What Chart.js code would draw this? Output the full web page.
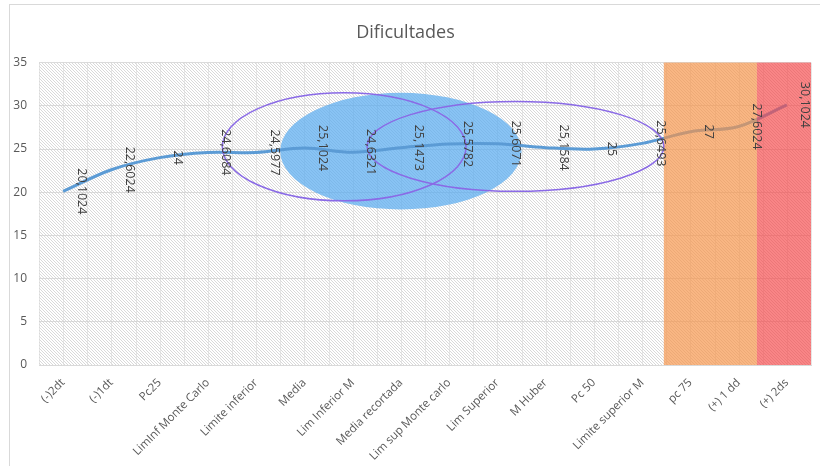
<!DOCTYPE html>
<html>
<head>
<meta charset="utf-8">
<script src="https://cdn.jsdelivr.net/npm/chart.js@4.4.1/dist/chart.umd.min.js"></script>
<style>
    html, body { margin: 0; padding: 0; background: #ffffff; }
    #wrap { position: relative; width: 820px; height: 466px; overflow: hidden; }
    #frame { position: absolute; left: 9px; top: 4px; width: 830px; height: 480px; border: 1px solid #d9d9d9; box-sizing: border-box; }
    #difChart { position: absolute; left: 0; top: 0; }
</style>
</head>
<body>
<div id="wrap">
    <div id="frame"></div>
    <canvas id="difChart" width="820" height="466"></canvas>
</div>
<script>
// Categorias e valores
const categories = [
    '(-)2dt', '(-)1dt', 'Pc25', 'LimInf Monte Carlo', 'Limite inferior', 'Media',
    'Lim Inferior M', 'Media recortada', 'Lim sup Monte carlo', 'Lim Superior',
    'M Huber', 'Pc 50', 'Limite superior M', 'pc 75', '(+) 1 dd', '(+) 2ds'
];
const values = [
    20.1024, 22.6024, 24, 24.6084, 24.5977, 25.1024, 24.6321, 25.1473,
    25.5782, 25.6071, 25.1584, 25, 25.6493, 27, 27.6024, 30.1024
];
const yTicks = [0, 5, 10, 15, 20, 25, 30, 35];

// Bandas de fundo (em índices de categoria)
const orangeBand = [12.45, 14.38];
const redBand = [14.38, 15.5];

// Elipses: [xMin, xMax, yMin, yMax] em unidades dos eixos
const blueEllipse = [4.5, 9.5, 18, 31.5];
const ringA = [3.3, 8.35, 19, 31.5];
const ringB = [6.3, 12.45, 20.1, 30.5];

const FONT = "'Open Sans', 'Liberation Sans', sans-serif";

function makeHatch() {
    const c = document.createElement('canvas');
    c.width = 3; c.height = 3;
    const g = c.getContext('2d');
    g.fillStyle = '#ffffff';
    g.fillRect(0, 0, 3, 3);
    g.fillStyle = 'rgba(180,180,180,0.5)';
    for (let k = 0; k < 3; k++) g.fillRect(k, k, 1, 1);
    return c;
}

function ellipsePath(ctx, xs, ys, e) {
    const x1 = xs.getPixelForValue(e[0]), x2 = xs.getPixelForValue(e[1]);
    const y1 = ys.getPixelForValue(e[3]), y2 = ys.getPixelForValue(e[2]);
    ctx.beginPath();
    ctx.ellipse((x1 + x2) / 2, (y1 + y2) / 2, (x2 - x1) / 2, (y2 - y1) / 2, 0, 0, Math.PI * 2);
}

function bandRect(ctx, xs, area, b, color) {
    const x1 = xs.getPixelForValue(b[0]), x2 = xs.getPixelForValue(b[1]);
    ctx.fillStyle = color;
    ctx.fillRect(x1, area.top, x2 - x1, area.bottom - area.top);
}

const decorPlugin = {
    id: 'decor',
    beforeDraw(chart) {
        const { ctx, chartArea: a, scales: { x } } = chart;
        ctx.save();
        ctx.fillStyle = ctx.createPattern(makeHatch(), 'repeat');
        ctx.fillRect(a.left, a.top, a.right - a.left, a.bottom - a.top);
        // líneas verticales suaves cada media categoría
        ctx.strokeStyle = 'rgba(215,215,215,0.6)';
        ctx.lineWidth = 1;
        for (let i = -0.5; i <= categories.length - 0.5; i += 0.5) {
            const px = Math.round(x.getPixelForValue(i)) + 0.5;
            ctx.beginPath();
            ctx.moveTo(px, a.top);
            ctx.lineTo(px, a.bottom);
            ctx.stroke();
        }
        ctx.restore();
    },
    beforeDatasetsDraw(chart) {
        const { ctx, scales: { x, y } } = chart;
        ctx.save();
        ellipsePath(ctx, x, y, blueEllipse);
        ctx.fillStyle = 'rgba(90,172,240,0.72)';
        ctx.fill();
        ctx.restore();
    },
    afterDatasetsDraw(chart) {
        const { ctx, chartArea: a, scales: { x, y } } = chart;
        ctx.save();
        bandRect(ctx, x, a, orangeBand, 'rgba(246,148,72,0.68)');
        bandRect(ctx, x, a, redBand, 'rgba(246,70,72,0.66)');

        ctx.strokeStyle = '#8a6ae6';
        ctx.lineWidth = 1.5;
        ellipsePath(ctx, x, y, ringA);
        ctx.stroke();
        ellipsePath(ctx, x, y, ringB);
        ctx.stroke();

        // etiquetas de datos giradas
        const meta = chart.getDatasetMeta(0);
        ctx.font = '12.5px ' + FONT;
        ctx.fillStyle = '#404040';
        ctx.textAlign = 'center';
        ctx.textBaseline = 'middle';
        meta.data.forEach((pt, i) => {
            const txt = String(values[i]).replace('.', ',');
            ctx.save();
            ctx.translate(pt.x + 18, pt.y);
            ctx.rotate(Math.PI / 2);
            ctx.fillText(txt, 0, 0);
            ctx.restore();
        });
        ctx.restore();
    }
};

const ctx = document.getElementById('difChart').getContext('2d');
new Chart(ctx, {
    type: 'line',
    data: {
        labels: categories,
        datasets: [{
            data: values,
            borderColor: '#5b9bd5',
            borderWidth: 3,
            pointRadius: 0,
            tension: 0.35,
            fill: false
        }]
    },
    options: {
        responsive: false,
        animation: false,
        devicePixelRatio: 1,
        layout: { padding: { left: 0, right: 9, top: 0, bottom: 0 } },
        plugins: {
            legend: { display: false },
            tooltip: { enabled: false },
            title: {
                display: true,
                text: 'Dificultades',
                color: '#595959',
                font: { family: FONT, size: 18, weight: 'normal' },
                padding: { top: 22, bottom: 19 }
            }
        },
        scales: {
            x: {
                offset: true,
                grid: { display: false },
                border: { display: true, color: '#d9d9d9' },
                ticks: {
                    color: '#595959',
                    font: { family: FONT, size: 11.5 },
                    minRotation: 45,
                    maxRotation: 45,
                    autoSkip: false,
                    padding: 3
                },
                afterFit(s) { s.height = 101; }
            },
            y: {
                min: 0,
                max: 35,
                afterBuildTicks(s) { s.ticks = yTicks.map(v => ({ value: v })); },
                grid: { color: 'rgba(205,205,205,0.7)', drawTicks: false },
                border: { display: false },
                ticks: {
                    color: '#595959',
                    font: { family: FONT, size: 12 },
                    padding: 12
                },
                afterFit(s) { s.width = 39; }
            }
        }
    },
    plugins: [decorPlugin]
});
</script>
</body>
</html>
